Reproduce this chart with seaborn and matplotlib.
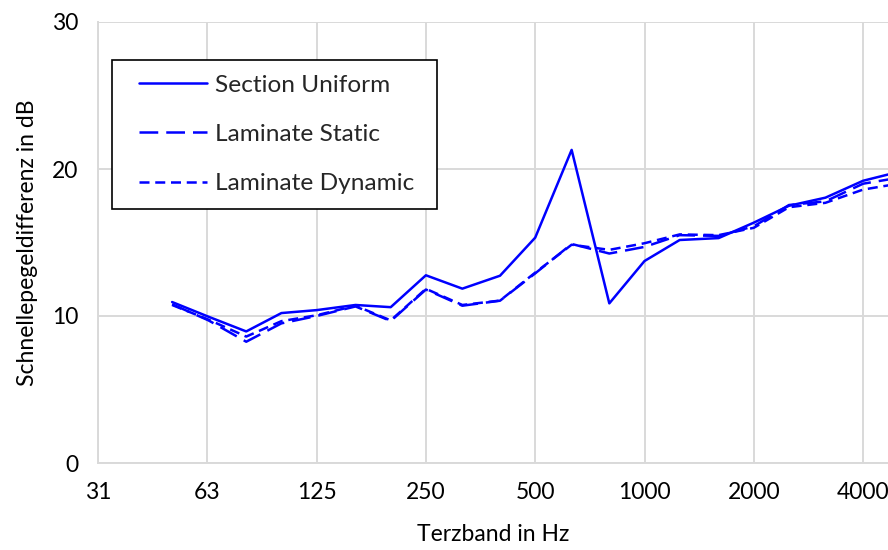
import numpy as np
import pandas as pd
import matplotlib
matplotlib.use("Agg")
import matplotlib.pyplot as plt
from matplotlib.lines import Line2D
from matplotlib.legend_handler import HandlerLine2D
from matplotlib.ticker import FixedLocator, FixedFormatter, NullLocator
import seaborn as sns

# Third-octave band centre frequencies (Hz)
freqs = [50, 63, 80, 100, 125, 160, 200, 250, 315, 400, 500, 630, 800,
         1000, 1250, 1600, 2000, 2500, 3150, 4000, 5000]

section_uniform = [10.95, 9.95, 8.95, 10.2, 10.4, 10.75, 10.6, 12.77, 11.86, 12.74,
                   15.33, 21.3, 10.86, 13.74, 15.17, 15.3, 16.35, 17.5, 18.05, 19.2, 19.8]
laminate_static = [10.8, 9.7, 8.25, 9.5, 10.0, 10.65, 9.66, 11.8, 10.7, 11.04,
                   12.9, 14.9, 14.25, 14.7, 15.5, 15.45, 16.1, 17.55, 17.8, 19.0, 19.4]
laminate_dynamic = [10.75, 9.75, 8.6, 9.65, 10.05, 10.7, 9.7, 11.85, 10.75, 11.05,
                    12.95, 14.85, 14.5, 14.95, 15.55, 15.5, 16.0, 17.4, 17.7, 18.6, 19.0]

series_names = ["Section Uniform", "Laminate Static", "Laminate Dynamic"]

x_ticks = [31.25, 62.5, 125, 250, 500, 1000, 2000, 4000]
x_tick_labels = ["31", "63", "125", "250", "500", "1000", "2000", "4000"]
y_ticks = [0, 10, 20, 30]

df = pd.DataFrame({
    "Frequenz": freqs * 3,
    "Wert": section_uniform + laminate_static + laminate_dynamic,
    "Serie": sum([[n] * len(freqs) for n in series_names], []),
})

sns.set_theme(style="white")
plt.rcParams["font.family"] = ["Lato", "DejaVu Sans"]

fig = plt.figure(figsize=(8.88, 5.5), dpi=100)
ax = fig.add_axes([98 / 888, 1 - 463 / 550, 1 - 98 / 888, (463 - 22) / 550])

blue = "#0000FF"
sns.lineplot(
    data=df, x="Frequenz", y="Wert", hue="Serie", style="Serie",
    palette={n: blue for n in series_names},
    dashes={"Section Uniform": "", "Laminate Static": (7.5, 3.2),
            "Laminate Dynamic": (4.0, 2.3)},
    linewidth=1.8, ax=ax, sort=False,
)

ax.set_xscale("log", base=2)
ax.set_xlim(31.25, 31.25 * 2 ** (790 / 109.3))
ax.set_ylim(0, 30)
ax.xaxis.set_major_locator(FixedLocator(x_ticks))
ax.xaxis.set_major_formatter(FixedFormatter(x_tick_labels))
ax.xaxis.set_minor_locator(NullLocator())
ax.set_yticks(y_ticks)

grid_col = "#d9d9d9"
ax.grid(True, color=grid_col, linewidth=1.4)
ax.set_axisbelow(True)
for side in ("top", "right"):
    ax.spines[side].set_visible(False)
for side in ("left", "bottom"):
    ax.spines[side].set_color(grid_col)
    ax.spines[side].set_linewidth(1.4)
ax.tick_params(axis="both", which="major", direction="out", length=6,
               width=1.4, color=grid_col, labelsize=16.5, labelcolor="#000000",
               pad=8)

ax.set_xlabel("Terzband in Hz", fontsize=16.5, labelpad=15, color="#000000")
ax.set_ylabel("Schnellepegeldifferenz in dB", fontsize=16.5, labelpad=10,
              color="#000000")

handles, labels = ax.get_legend_handles_labels()
leg = ax.legend(handles, labels, loc="upper left",
                bbox_to_anchor=((112 - 98) / 790, (463 - 208) / 441,
                                325 / 790, 148 / 441),
                mode="expand", borderaxespad=0, fontsize=17.6, frameon=True,
                fancybox=False, edgecolor="#000000", framealpha=1,
                labelspacing=1.15, handlelength=3.28, handletextpad=0.33,
                borderpad=0.6,
                handler_map={Line2D: HandlerLine2D(xpad=0.5)})
leg.get_frame().set_linewidth(1.2)

fig.savefig("out.png", dpi=100)
